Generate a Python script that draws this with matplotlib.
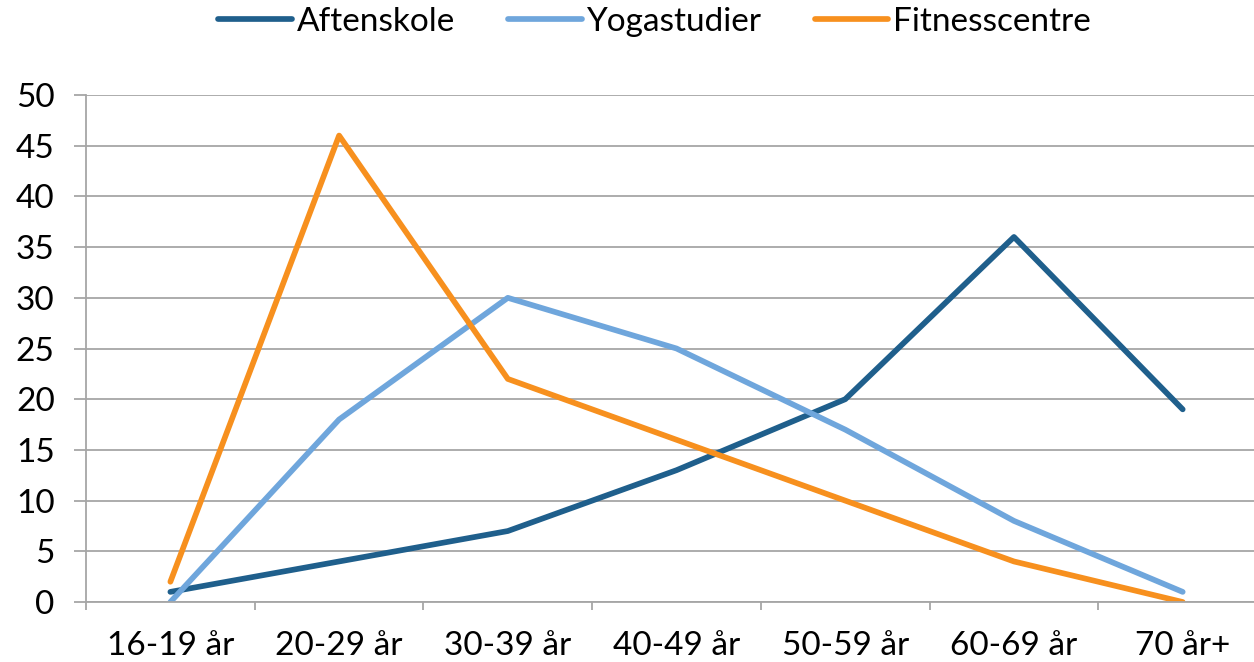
import numpy as np
import matplotlib.pyplot as plt

plt.rcParams['font.family'] = ['Lato', 'DejaVu Sans']

categories = ['16-19 år', '20-29 år', '30-39 år', '40-49 år', '50-59 år', '60-69 år', '70 år+']
aftenskole = [1, 4, 7, 13, 20, 36, 19]
yogastudier = [0, 18, 30, 25, 17, 8, 1]
fitnesscentre = [2, 46, 22, 16, 10, 4, 0]

fig = plt.figure(figsize=(12.54, 6.62), dpi=100)
# plot area runs past the right edge, as in the cropped original
ax = fig.add_axes([0.0686, 0.0906, 0.9418, 0.7659])

x = np.arange(len(categories))
ax.plot(x, aftenskole, color='#1F5F8C', lw=4.1, label='Aftenskole', solid_capstyle='round')
ax.plot(x, yogastudier, color='#6FA6DC', lw=4.1, label='Yogastudier', solid_capstyle='round')
ax.plot(x, fitnesscentre, color='#F7901E', lw=4.1, label='Fitnesscentre', solid_capstyle='round')

ax.set_xlim(-0.5, len(categories) - 0.5)
ax.set_ylim(0, 50)
ax.set_yticks(np.arange(0, 51, 5))
ax.yaxis.grid(True, color='#A6A6A6', lw=1.3)
ax.set_axisbelow(True)

ax.set_xticks(x)
ax.set_xticklabels(categories, fontsize=24)
ax.set_xticks(np.arange(-0.5, len(categories)), minor=True)
ax.tick_params(axis='x', which='major', length=0, pad=21)
ax.tick_params(axis='x', which='minor', length=6, width=1.3, color='#A6A6A6')
ax.tick_params(axis='y', length=8.6, width=1.3, color='#A6A6A6', labelsize=24, pad=14)

for s in ['top', 'right']:
    ax.spines[s].set_visible(False)
for s in ['left', 'bottom']:
    ax.spines[s].set_color('#A6A6A6')
    ax.spines[s].set_linewidth(1.3)

fig.legend(loc='upper center', bbox_to_anchor=(0.522, 1.035), ncol=3, frameon=False,
           fontsize=24, handlelength=2.2, handletextpad=0.15, columnspacing=1.6)

plt.savefig('out.png', dpi=100)
